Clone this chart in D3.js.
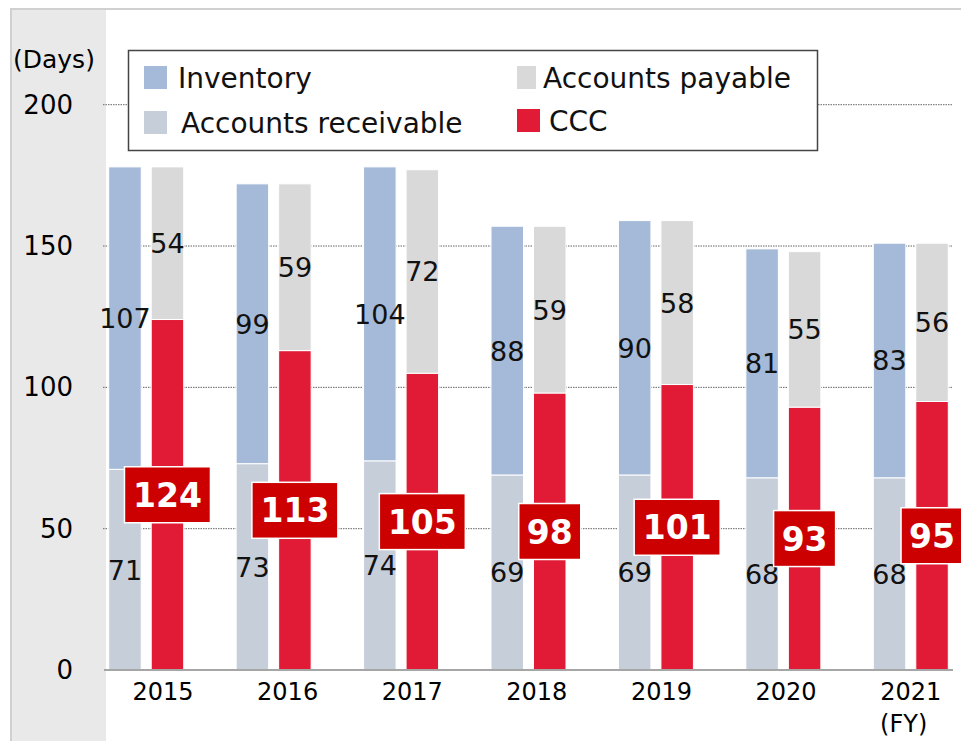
<!DOCTYPE html>
<html>
<head>
<meta charset="utf-8">
<script src="https://cdn.jsdelivr.net/npm/d3@7"></script>
<style>
  body { margin: 0; background: #fff; }
  svg { display: block; font-family: "DejaVu Sans", Verdana, sans-serif; }
</style>
</head>
<body>
<div id="chart"></div>
<script>
const WIDTH = 961;
const HEIGHT = 741;

const YEARS = ["2015", "2016", "2017", "2018", "2019", "2020", "2021"];
const INVENTORY = [107, 99, 104, 88, 90, 81, 83];
const RECEIVABLE = [71, 73, 74, 69, 69, 68, 68];
const PAYABLE = [54, 59, 72, 59, 58, 55, 56];
const CCC = [124, 113, 105, 98, 101, 93, 95];
const Y_TICKS = [0, 50, 100, 150, 200];

const COLORS = {inv: "#a4bad8", rec: "#c6ceda", pay: "#d9d9d9", ccc: "#e11b35", box: "#cc0000"};

const svg = d3.select("#chart")
  .append("svg")
  .attr("width", WIDTH)
  .attr("height", HEIGHT);

// frame + grey axis panel
svg.append("rect").attr("x", 11).attr("y", 9).attr("width", 95).attr("height", HEIGHT)
  .attr("fill", "#e9e9e9");
svg.append("line").attr("x1", 10).attr("x2", WIDTH).attr("y1", 9).attr("y2", 9)
  .attr("stroke", "#d0d0d0").attr("stroke-width", 2);
svg.append("line").attr("x1", 11).attr("x2", 11).attr("y1", 9).attr("y2", HEIGHT)
  .attr("stroke", "#d0d0d0").attr("stroke-width", 2);

const Y = d3.scaleLinear().domain([0, 200]).range([670, 104.7]);

// bars use a slightly wider step than the category labels
const X_BAR = d3.scaleBand().domain(YEARS).range([82.5, 974.5]);
const X_LABEL = d3.scaleBand().domain(YEARS).range([100.7, 973]);
const BAR_W = 32.5, GAP = 10;

// grid lines
svg.append("g")
  .selectAll("line")
  .data(Y_TICKS.filter(d => d > 0))
  .enter()
  .append("line")
  .attr("x1", 103).attr("x2", 953)
  .attr("y1", d => Y(d)).attr("y2", d => Y(d))
  .attr("stroke", "#666").attr("stroke-width", 1)
  .attr("stroke-dasharray", "1.5,1");

// y tick labels
svg.append("g")
  .selectAll("text")
  .data(Y_TICKS)
  .enter()
  .append("text")
  .attr("x", 73).attr("y", d => Y(d) + 9)
  .attr("text-anchor", "end")
  .attr("font-size", 26)
  .text(d => d);

svg.append("text").attr("x", 13).attr("y", 68)
  .attr("font-size", 25).text("(Days)");

const rows = YEARS.map((y, i) => ({
  year: y, inv: INVENTORY[i], rec: RECEIVABLE[i], pay: PAYABLE[i], ccc: CCC[i]
}));

const leftX = d => X_BAR(d.year) + X_BAR.bandwidth() / 2 - GAP / 2 - BAR_W;
const rightX = d => X_BAR(d.year) + X_BAR.bandwidth() / 2 + GAP / 2;

const bars = svg.append("g");

function stackBar(xFn, y0Fn, y1Fn, color) {
  bars.selectAll(null)
    .data(rows)
    .enter()
    .append("rect")
    .attr("x", xFn)
    .attr("width", BAR_W)
    .attr("y", d => Y(y1Fn(d)))
    .attr("height", d => Y(y0Fn(d)) - Y(y1Fn(d)))
    .attr("fill", color)
    .attr("stroke", "#fff").attr("stroke-width", 1);
}

stackBar(leftX, d => 0, d => d.rec, COLORS.rec);
stackBar(leftX, d => d.rec, d => d.rec + d.inv, COLORS.inv);
stackBar(rightX, d => 0, d => d.ccc, COLORS.ccc);
stackBar(rightX, d => d.ccc, d => d.ccc + d.pay, COLORS.pay);

// baseline
svg.append("line").attr("x1", 104).attr("x2", 953).attr("y1", Y(0)).attr("y2", Y(0))
  .attr("stroke", "#a6a6a6").attr("stroke-width", 2);

// value labels
function valueLabel(xFn, midFn, textFn) {
  svg.append("g")
    .selectAll("text")
    .data(rows)
    .enter()
    .append("text")
    .attr("x", d => xFn(d) + BAR_W / 2)
    .attr("y", d => Y(midFn(d)) + 10)
    .attr("text-anchor", "middle")
    .attr("font-size", 27)
    .attr("fill", "#111")
    .text(textFn);
}

valueLabel(leftX, d => d.rec / 2, d => d.rec);
valueLabel(leftX, d => d.rec + d.inv / 2, d => d.inv);
valueLabel(rightX, d => d.ccc + d.pay / 2, d => d.pay);

// CCC boxes
const boxes = svg.append("g")
  .selectAll("g")
  .data(rows)
  .enter()
  .append("g")
  .attr("transform", d => `translate(${rightX(d) + BAR_W / 2},${Y(d.ccc / 2)})`);

boxes.append("rect")
  .attr("x", d => String(d.ccc).length > 2 ? -43 : -31)
  .attr("width", d => String(d.ccc).length > 2 ? 86 : 62)
  .attr("y", -28).attr("height", 56)
  .attr("fill", COLORS.box)
  .attr("stroke", "#fff").attr("stroke-width", 1.5);

boxes.append("text")
  .attr("text-anchor", "middle")
  .attr("y", 12)
  .attr("font-size", 33)
  .attr("font-weight", "bold")
  .attr("fill", "#fff")
  .text(d => d.ccc);

// x labels
svg.append("g")
  .selectAll("text")
  .data(YEARS)
  .enter()
  .append("text")
  .attr("x", d => X_LABEL(d) + X_LABEL.bandwidth() / 2)
  .attr("y", 700)
  .attr("text-anchor", "middle")
  .attr("font-size", 24)
  .text(d => d);

svg.append("text").attr("x", X_LABEL("2021") + X_LABEL.bandwidth() / 2 - 7).attr("y", 732)
  .attr("text-anchor", "middle").attr("font-size", 24).text("(FY)");

// legend
const legend = svg.append("g");
legend.append("rect").attr("x", 128.5).attr("y", 50.5).attr("width", 689).attr("height", 100)
  .attr("fill", "#fff").attr("stroke", "#444").attr("stroke-width", 1.5);

const LEGEND_ITEMS = [
  {label: "Inventory", color: COLORS.inv, x: 144, y: 66, w: 23, tx: 178},
  {label: "Accounts receivable", color: COLORS.rec, x: 144, y: 111, w: 23, tx: 181},
  {label: "Accounts payable", color: COLORS.pay, x: 517, y: 66, w: 19, tx: 543},
  {label: "CCC", color: COLORS.ccc, x: 517, y: 109, w: 23, tx: 549}
];

legend.selectAll("rect.sw")
  .data(LEGEND_ITEMS)
  .enter()
  .append("rect")
  .attr("class", "sw")
  .attr("x", d => d.x).attr("y", d => d.y)
  .attr("width", d => d.w).attr("height", 23)
  .attr("fill", d => d.color);

legend.selectAll("text")
  .data(LEGEND_ITEMS)
  .enter()
  .append("text")
  .attr("x", d => d.tx).attr("y", d => d.y + 22)
  .attr("font-size", 28)
  .attr("fill", "#111")
  .text(d => d.label);
</script>
</body>
</html>
